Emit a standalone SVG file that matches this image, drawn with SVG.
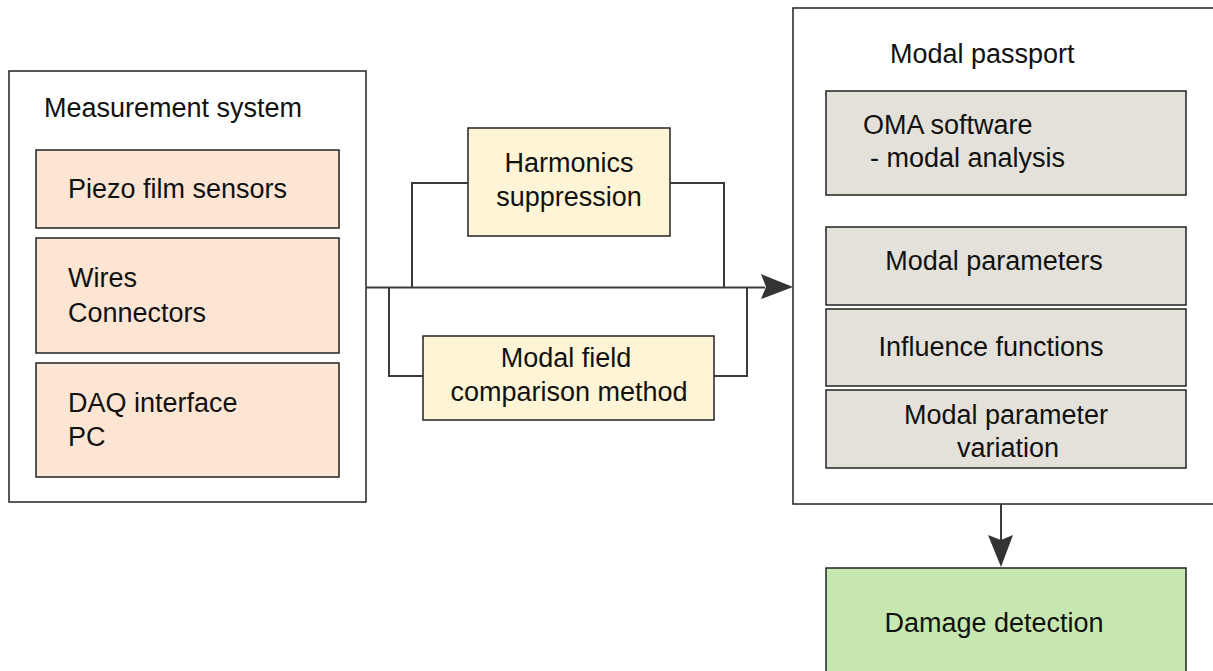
<svg xmlns="http://www.w3.org/2000/svg" width="1213" height="671" viewBox="0 0 1213 671">
<defs>
<style>
text{font-family:"Liberation Sans",Arial,sans-serif;font-size:27px;fill:#111}
.outer{fill:#fff;stroke:#222;stroke-width:1.5}
.peach{fill:#FDE5D3;stroke:#222;stroke-width:1.5}
.yellow{fill:#FFF5D6;stroke:#222;stroke-width:1.5}
.gray{fill:#E3E1DA;stroke:#222;stroke-width:1.5}
.green{fill:#C6E8B0;stroke:#222;stroke-width:1.5}
.line{fill:none;stroke:#3a3a3a;stroke-width:2}
.head{fill:#333}
.c{text-anchor:middle}
</style>
</defs>
<rect width="1213" height="671" fill="#fff"/>
<g id="measurement-system">
<rect class="outer" x="9" y="71" width="357" height="431"/>
<text x="44" y="117">Measurement system</text>
</g>
<g id="piezo">
<rect class="peach" x="36" y="150" width="303" height="78"/>
<text x="68" y="198">Piezo film sensors</text>
</g>
<g id="wires">
<rect class="peach" x="36" y="238" width="303" height="115"/>
<text x="68" y="287">Wires</text>
<text x="68" y="322">Connectors</text>
</g>
<g id="daq">
<rect class="peach" x="36" y="363" width="303" height="114"/>
<text x="68" y="412">DAQ interface</text>
<text x="68" y="446">PC</text>
</g>
<g id="modal-passport">
<rect class="outer" x="793" y="8" width="430" height="496"/>
<text x="890" y="63">Modal passport</text>
</g>
<g id="oma">
<rect class="gray" x="826" y="91" width="360" height="104"/>
<text x="863" y="134">OMA software</text>
<text x="870" y="167">- modal analysis</text>
</g>
<g id="modal-parameters">
<rect class="gray" x="826" y="227" width="360" height="78"/>
<text class="c" x="994" y="270">Modal parameters</text>
</g>
<g id="influence">
<rect class="gray" x="826" y="309" width="360" height="77"/>
<text class="c" x="991" y="356">Influence functions</text>
</g>
<g id="variation">
<rect class="gray" x="826" y="390" width="360" height="78"/>
<text class="c" x="1006" y="424">Modal parameter</text>
<text class="c" x="1008" y="457">variation</text>
</g>
<g id="damage">
<rect class="green" x="826" y="568" width="360" height="110"/>
<text class="c" x="994" y="632">Damage detection</text>
</g>
<g id="harmonics">
<rect class="yellow" x="468" y="128" width="202" height="108"/>
<text class="c" x="569" y="172">Harmonics</text>
<text class="c" x="569" y="206">suppression</text>
</g>
<g id="modal-field">
<rect class="yellow" x="423" y="336" width="291" height="84"/>
<text class="c" x="566" y="367">Modal field</text>
<text class="c" x="569" y="401">comparison method</text>
</g>
<g id="connectors">
<path class="line" d="M366 287.5 H765"/>
<path class="line" d="M412 287.5 V183 H468"/>
<path class="line" d="M670 183 H724 V287.5"/>
<path class="line" d="M389 287.5 V376 H423"/>
<path class="line" d="M714 376 H747 V287.5"/>
<polygon class="head" points="793,287 761,274 766,287 761,299"/>
<path class="line" d="M1001 504 V540"/>
<polygon class="head" points="1001,567 988,535 1001,540 1013,535"/>
</g>
</svg>
